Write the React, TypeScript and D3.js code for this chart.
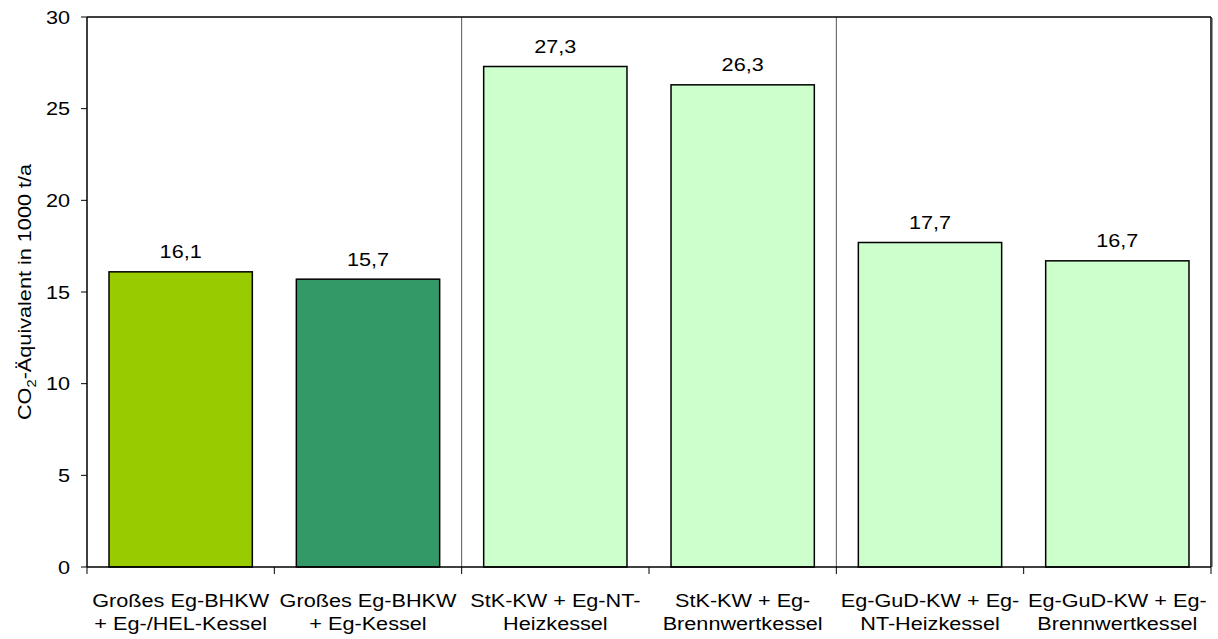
import React from "react";
import * as d3 from "d3";

const categories: string[][] = [
  ["Großes Eg-BHKW", "+ Eg-/HEL-Kessel"],
  ["Großes Eg-BHKW", "+ Eg-Kessel"],
  ["StK-KW + Eg-NT-", "Heizkessel"],
  ["StK-KW + Eg-", "Brennwertkessel"],
  ["Eg-GuD-KW + Eg-", "NT-Heizkessel"],
  ["Eg-GuD-KW + Eg-", "Brennwertkessel"],
];
const values: number[] = [16.1, 15.7, 27.3, 26.3, 17.7, 16.7];
const colors: string[] = ["#99CC00", "#339966", "#CCFFCC", "#CCFFCC", "#CCFFCC", "#CCFFCC"];
const yTicks: number[] = [0, 5, 10, 15, 20, 25, 30];
const groupDividers: number[] = [2, 4];

const W = 1218;
const H = 639;
const margin = { left: 87, right: 7, top: 17, bottom: 72 };
const FONT = "'Liberation Sans', Arial, sans-serif";
const FS = 19;
const SX = 1.14;

function T({
  x,
  y,
  anchor = "middle",
  dy,
  children,
}: {
  x: number;
  y: number;
  anchor?: string;
  dy?: string;
  children: React.ReactNode;
}) {
  return (
    <text
      transform={`translate(${x},${y}) scale(${SX},1)`}
      textAnchor={anchor}
      dy={dy}
      fontSize={FS}
      fill="#000"
    >
      {children}
    </text>
  );
}

export default function App() {
  const x = d3
    .scaleBand<number>()
    .domain(d3.range(categories.length))
    .range([margin.left, W - margin.right])
    .paddingInner(0.235)
    .paddingOuter(0.1175);
  const y = d3.scaleLinear().domain([0, 30]).range([H - margin.bottom, margin.top]);
  const step = x.step();
  const x0 = margin.left;
  const x1 = W - margin.right;
  const yb = y(0);
  const fmt = (v: number) => v.toFixed(1).replace(".", ",");

  return (
    <svg
      width={W}
      height={H}
      style={{ position: "absolute", left: 0, top: 0, background: "#fff" }}
      fontFamily={FONT}
    >
      {groupDividers.map((d) => (
        <line
          key={"div" + d}
          x1={x0 + d * step}
          x2={x0 + d * step}
          y1={margin.top}
          y2={yb}
          stroke="#555"
          strokeWidth={1}
        />
      ))}
      {values.map((v, i) => (
        <rect
          key={"bar" + i}
          x={x(i)!}
          y={y(v)}
          width={x.bandwidth()}
          height={yb - y(v)}
          fill={colors[i]}
          stroke="#000"
          strokeWidth={1.5}
        />
      ))}
      {values.map((v, i) => (
        <T key={"val" + i} x={x(i)! + x.bandwidth() / 2} y={y(v) - 13.5}>
          {fmt(v)}
        </T>
      ))}
      <line x1={x0} x2={x1} y1={margin.top} y2={margin.top} stroke="#000" strokeWidth={1.5} />
      <line x1={x1} x2={x1} y1={margin.top} y2={yb} stroke="#000" strokeWidth={1.5} />
      <line x1={x1 + 1.5} x2={x1 + 1.5} y1={margin.top + 1} y2={yb} stroke="#999" strokeWidth={1} />
      <line x1={x0} x2={x0} y1={margin.top} y2={yb} stroke="#000" strokeWidth={1.5} />
      <line x1={x0} x2={x1} y1={yb} y2={yb} stroke="#000" strokeWidth={1.5} />
      {yTicks.map((t) => (
        <g key={"yt" + t}>
          <line x1={x0 - 6} x2={x0} y1={y(t)} y2={y(t)} stroke="#000" strokeWidth={1} />
          <T x={x0 - 17} y={y(t)} anchor="end" dy="0.35em">
            {t}
          </T>
        </g>
      ))}
      {d3.range(categories.length + 1).map((i) => (
        <line
          key={"xt" + i}
          x1={x0 + i * step}
          x2={x0 + i * step}
          y1={yb}
          y2={yb + 7}
          stroke="#000"
          strokeWidth={1}
        />
      ))}
      {categories.map((lines, i) =>
        lines.map((l, j) => (
          <T key={"cat" + i + "-" + j} x={x(i)! + x.bandwidth() / 2} y={yb + 40 + j * 23}>
            {l}
          </T>
        ))
      )}
      <text
        transform={`translate(31, ${(margin.top + yb) / 2}) rotate(-90) scale(${SX},1)`}
        textAnchor="middle"
        fontSize={FS}
        fill="#000"
      >
        CO
        <tspan fontSize={13} dy={5}>2</tspan>
        <tspan dy={-5}>-Äquivalent in 1000 t/a</tspan>
      </text>
    </svg>
  );
}
